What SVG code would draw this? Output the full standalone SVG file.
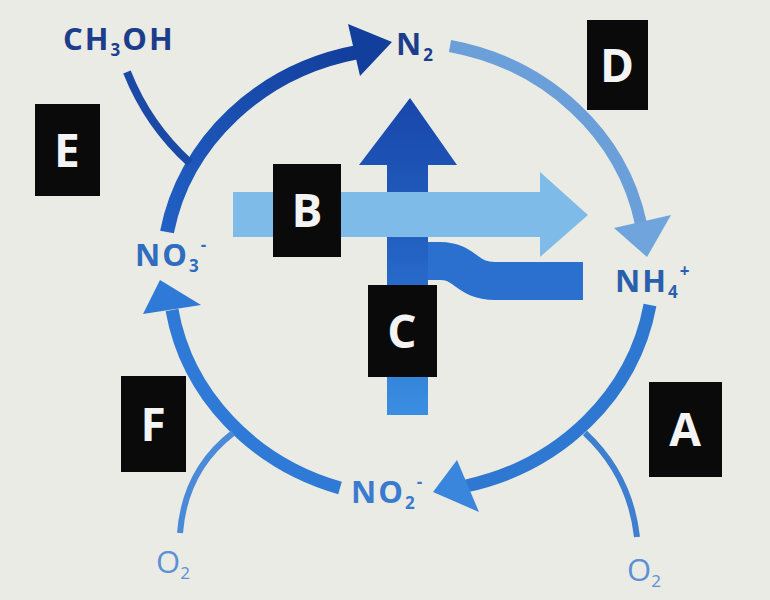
<svg xmlns="http://www.w3.org/2000/svg" width="770" height="600" viewBox="0 0 770 600">
<defs>
<linearGradient id="gC" x1="0" y1="0" x2="0" y2="1">
<stop offset="0" stop-color="#1847aa"/>
<stop offset="0.5" stop-color="#2463c4"/>
<stop offset="1" stop-color="#3a8fe2"/>
</linearGradient>
<linearGradient id="gE" x1="0" y1="1" x2="1" y2="0">
<stop offset="0" stop-color="#2160c4"/>
<stop offset="1" stop-color="#123e9c"/>
</linearGradient>
<style>
.bg{fill:#e9ebe4}
.box{fill:#0a0a0a}
.lt{font-family:"Open Sans","Liberation Sans",sans-serif;font-weight:bold;font-size:46px;fill:#f4f4f4;text-anchor:middle}
.chem{font-family:"Open Sans","Liberation Sans",sans-serif;font-weight:bold;font-size:31px;letter-spacing:2px}
.o2{font-family:"Open Sans","Liberation Sans",sans-serif;font-size:31px;fill:#5b8fd6}
.arc{fill:none}
</style>
</defs>
<rect class="bg" width="770" height="600"/>
<g id="connectors">
<path class="arc" d="M167 232 A243 225 0 0 1 358 52" stroke="url(#gE)" stroke-width="14"/>
<polygon points="392,42 348,24 360,76" fill="#123e9c"/>
<path class="arc" d="M127 72 Q148 125 190 163" stroke="#1a4aa6" stroke-width="8"/>
<path class="arc" d="M450 46 A243 225 0 0 1 641 224" stroke="#6b9fd9" stroke-width="12"/>
<polygon points="647,257 614,228 671,215" fill="#6fa4dc"/>
<path class="arc" d="M650 305 A243 225 0 0 1 466 486" stroke="#2f78d2" stroke-width="13"/>
<polygon points="433,492 457,460 479,512" fill="#3a86dc"/>
<path class="arc" d="M637 537 Q630 475 585 433" stroke="#3f7fcf" stroke-width="6"/>
<path class="arc" d="M340 488 A243 225 0 0 1 172 310" stroke="#2f7ad6" stroke-width="13"/>
<polygon points="160,280 143,314 201,305" fill="#2f7ad6"/>
<path class="arc" d="M180 533 Q185 470 233 433" stroke="#4a8ad8" stroke-width="6"/>
</g>
<g id="arrow-C">
<path d="M410 261 L440 261 C466 261 466 281 495 281 L583 281" fill="none" stroke="#2b6fcf" stroke-width="38"/>
<polygon points="387,415 387,165 359,165 410,98 457,165 428,165 428,415" fill="url(#gC)"/>
</g>
<g id="arrow-B">
<polygon points="233,192 540,192 540,172 588,215 540,257 540,237 233,237" fill="#7fbbe9"/>
</g>
<g id="label-B"><rect class="box" x="273" y="164" width="68" height="93"/><text class="lt" x="307" y="227">B</text></g>
<g id="label-C"><rect class="box" x="368" y="285" width="69" height="92"/><text class="lt" x="402" y="348">C</text></g>
<g id="label-D"><rect class="box" x="587" y="20" width="61" height="90"/><text class="lt" x="617" y="82">D</text></g>
<g id="label-E"><rect class="box" x="35" y="104" width="65" height="92"/><text class="lt" x="67" y="167">E</text></g>
<g id="label-F"><rect class="box" x="121" y="376" width="65" height="96"/><text class="lt" x="153" y="441">F</text></g>
<g id="label-A"><rect class="box" x="649" y="382" width="73" height="95"/><text class="lt" x="685" y="446">A</text></g>
<g id="node-CH3OH"><text class="chem" x="63" y="50" fill="#1c3d8c">CH<tspan font-size="17" dy="6">3</tspan><tspan dy="-6">OH</tspan></text></g>
<g id="node-N2"><text class="chem" x="396" y="55" fill="#1c3d8c">N<tspan font-size="17" dy="6">2</tspan></text></g>
<g id="node-NH4"><text class="chem" x="615" y="292" fill="#2a5fae">NH<tspan font-size="17" dy="6">4</tspan><tspan font-size="17" dy="-21">+</tspan></text></g>
<g id="node-NO3"><text class="chem" x="135" y="266" fill="#2f6dc0">NO<tspan font-size="17" dy="6">3</tspan><tspan font-size="17" dy="-21">-</tspan></text></g>
<g id="node-NO2"><text class="chem" x="351" y="503" fill="#3a7ad0">NO<tspan font-size="17" dy="6">2</tspan><tspan font-size="17" dy="-21">-</tspan></text></g>
<g id="node-O2-left"><text class="o2" x="156" y="573">O<tspan font-size="17" dy="6">2</tspan></text></g>
<g id="node-O2-right"><text class="o2" x="627" y="581">O<tspan font-size="17" dy="6">2</tspan></text></g>
</svg>
